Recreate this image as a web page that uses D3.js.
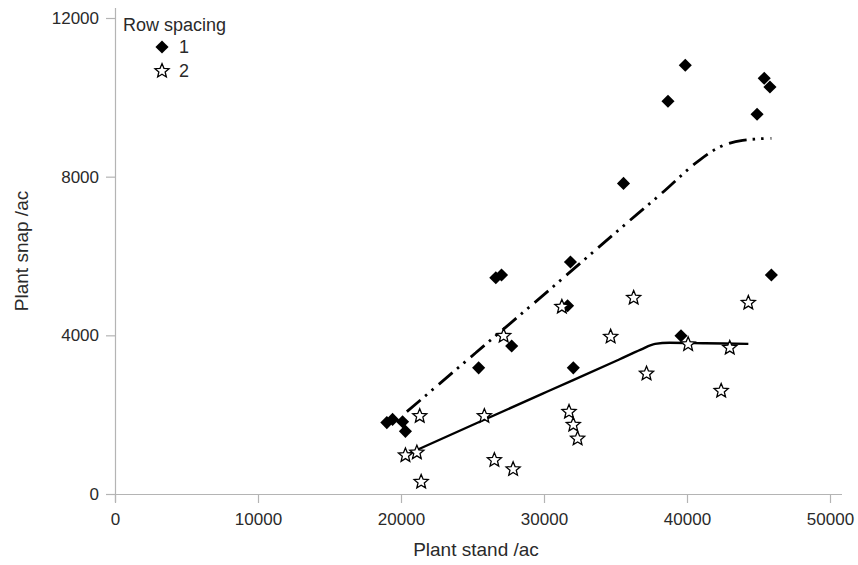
<!DOCTYPE html>
<html>
<head>
<meta charset="utf-8">
<script src="https://cdn.jsdelivr.net/npm/d3@7"></script>
<style>
  body { margin: 0; background: #fff; }
  text { font-family: "Liberation Sans", Arial, sans-serif; fill: #2a2a2a; }
</style>
</head>
<body>
<div id="chart"></div>
<script>
// Row spacing 1 (diamonds)
const row1Stand = [19010, 19410, 20110, 20310, 25430, 26630, 27030, 27740, 31650, 31850, 32050, 35560, 38670, 39580, 39880, 44900, 45400, 45800, 45900];
const row1Snap  = [1800, 1880, 1820, 1580, 3180, 5450, 5520, 3730, 4745, 5850, 3180, 7830, 9900, 3990, 10810, 9575, 10480, 10260, 5520];

// Row spacing 2 (stars)
const row2Stand = [20310, 21110, 21310, 21410, 25830, 26530, 27180, 27840, 31250, 31750, 32050, 32350, 34660, 36270, 37170, 40080, 42390, 42990, 44290];
const row2Snap  = [1000, 1070, 1990, 330, 1990, 880, 4010, 650, 4745, 2095, 1770, 1420, 3990, 4970, 3060, 3800, 2625, 3710, 4845];

// fitted curves
const fit1Stand = [20410, 25230, 30240, 35260, 38270, 40880, 42290, 43890, 45900];
const fit1Snap  = [2076, 3560, 5103, 6667, 7593, 8419, 8748, 8917, 8967];
const fit2Stand = [20310, 25230, 30240, 35260, 36770, 37770, 38770, 41280, 44290];
const fit2Snap  = [981, 1777, 2584, 3391, 3640, 3785, 3812, 3800, 3784];

const xTicks = [0, 10000, 20000, 30000, 40000, 50000];
const yTicks = [0, 4000, 8000, 12000];

const width = 858, height = 565;
const margin = { left: 115, right: 28, top: 18, bottom: 71 };

const svg = d3.select("#chart").append("svg")
    .attr("width", width)
    .attr("height", height);

const x = d3.scaleLinear().domain([0, 50000]).range([margin.left, width - margin.right]);
const y = d3.scaleLinear().domain([0, 12000]).range([height - margin.bottom, margin.top]);

// axes
const xAxis = svg.append("g")
    .attr("transform", `translate(0,${y(0)})`)
    .call(d3.axisBottom(x).tickValues(xTicks).tickFormat(d3.format("d")).tickSize(9).tickSizeOuter(0));
xAxis.select(".domain").attr("stroke", "#b4b4b4").attr("stroke-width", 1.2).attr("d", `M${x(0) - 9},0.5H${x(50000) + 12}`);
xAxis.selectAll(".tick line").attr("stroke", "#b4b4b4").attr("stroke-width", 1.2);
xAxis.selectAll(".tick text").attr("font-size", 17).attr("y", 19).attr("dy", "0.71em").attr("fill", "#2a2a2a");

const yAxis = svg.append("g")
    .attr("transform", `translate(${x(0)},0)`)
    .call(d3.axisLeft(y).tickValues(yTicks).tickFormat(d3.format("d")).tickSize(9).tickSizeOuter(0));
yAxis.select(".domain").attr("stroke", "#b4b4b4").attr("stroke-width", 1.2).attr("d", `M0.5,${y(0) + 8}V${y(12000) - 10}`);
yAxis.selectAll(".tick line").attr("stroke", "#b4b4b4").attr("stroke-width", 1.2);
yAxis.selectAll(".tick text").attr("font-size", 17).attr("x", -16).attr("fill", "#2a2a2a");

svg.append("text")
    .attr("x", 476)
    .attr("y", 556)
    .attr("text-anchor", "middle")
    .attr("font-size", 19)
    .text("Plant stand /ac");

svg.append("text")
    .attr("transform", "translate(28,251) rotate(-90)")
    .attr("text-anchor", "middle")
    .attr("font-size", 19)
    .text("Plant snap /ac");

// fitted lines
const line = d3.line()
    .x(d => x(d[0]))
    .y(d => y(d[1]))
    .curve(d3.curveMonotoneX);

svg.append("path")
    .datum(d3.zip(fit1Stand, fit1Snap))
    .attr("d", line)
    .attr("fill", "none")
    .attr("stroke", "#000")
    .attr("stroke-width", 2.8)
    .attr("stroke-dasharray", "18,6,2.5,6,2.5,7");

svg.append("path")
    .datum(d3.zip(fit2Stand, fit2Snap))
    .attr("d", line)
    .attr("fill", "none")
    .attr("stroke", "#000")
    .attr("stroke-width", 2.4);

// markers
const diamond = d3.symbol().type(d3.symbolSquare).size(86)();

function starPath(ro, ri) {
    const pts = [];
    for (let i = 0; i < 10; i++) {
        const r = i % 2 === 0 ? ro : ri;
        const a = -Math.PI / 2 + i * Math.PI / 5;
        pts.push([r * Math.cos(a), r * Math.sin(a)]);
    }
    return "M" + pts.map(p => p.join(",")).join("L") + "Z";
}
const star = starPath(7.4, 3.3);

svg.append("g")
    .selectAll("path")
    .data(d3.zip(row1Stand, row1Snap))
    .join("path")
    .attr("d", diamond)
    .attr("transform", d => `translate(${x(d[0])},${y(d[1])}) rotate(45)`)
    .attr("fill", "#000");

svg.append("g")
    .selectAll("path")
    .data(d3.zip(row2Stand, row2Snap))
    .join("path")
    .attr("d", star)
    .attr("transform", d => `translate(${x(d[0])},${y(d[1]) + 1})`)
    .attr("fill", "#fff")
    .attr("stroke", "#000")
    .attr("stroke-width", 1.3);

// legend
const legend = svg.append("g");
legend.append("text")
    .attr("x", 123)
    .attr("y", 31)
    .attr("font-size", 18)
    .text("Row spacing");
legend.append("path")
    .attr("d", diamond)
    .attr("transform", "translate(162,47) rotate(45)")
    .attr("fill", "#000");
legend.append("text")
    .attr("x", 179)
    .attr("y", 53)
    .attr("font-size", 18)
    .text("1");
legend.append("path")
    .attr("d", star)
    .attr("transform", "translate(162,71)")
    .attr("fill", "#fff")
    .attr("stroke", "#000")
    .attr("stroke-width", 1.3);
legend.append("text")
    .attr("x", 179)
    .attr("y", 77)
    .attr("font-size", 18)
    .text("2");
</script>
</body>
</html>
